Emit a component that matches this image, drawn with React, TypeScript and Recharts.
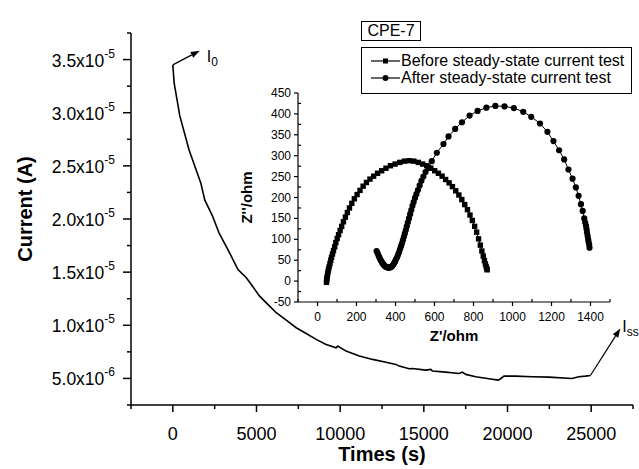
import React from 'react'
import {
  LineChart,
  Line,
  XAxis,
  YAxis,
  ReferenceLine,
  ScatterChart,
  Scatter,
} from 'recharts'

const FONT = 'Arial, "Liberation Sans", Helvetica, sans-serif'

// main chronoamperometry curve
const timeS = [0, 77, 417, 971, 1669, 1907, 2366, 2759, 3300, 3892, 4392, 4690, 5185, 5781, 6180, 6776, 7372, 7968, 8564, 9160, 9756, 9852, 10352, 10549, 11145, 11938, 12737, 13333, 13529, 14125, 14322, 15120, 15418, 15514, 16312, 17105, 17302, 17505, 18101, 18893, 19447, 19590, 19787, 20485, 21474, 22469, 23859, 24257, 24657, 24955]
const currentA = [3.45e-5, 3.28e-5, 2.97e-5, 2.65e-5, 2.34e-5, 2.18e-5, 2.03e-5, 1.87e-5, 1.71e-5, 1.525e-5, 1.447e-5, 1.384e-5, 1.274e-5, 1.18e-5, 1.118e-5, 1.048e-5, 9.77e-6, 9.23e-6, 8.67e-6, 8.2e-6, 7.89e-6, 8.04e-6, 7.57e-6, 7.47e-6, 7.1e-6, 6.79e-6, 6.53e-6, 6.32e-6, 6.16e-6, 5.91e-6, 5.94e-6, 5.78e-6, 5.85e-6, 5.69e-6, 5.59e-6, 5.47e-6, 5.59e-6, 5.38e-6, 5.16e-6, 4.97e-6, 4.84e-6, 4.97e-6, 5.22e-6, 5.22e-6, 5.16e-6, 5.12e-6, 5.0e-6, 5.16e-6, 5.22e-6, 5.28e-6]

// arrow tips for I0 / Iss annotations
const i0Tip = { t: 1609, cur: 3.584e-5 }
const issTip = { t: 26743, cur: 9.7e-6 }

const timeTicks = [-2500, 0, 2500, 5000, 7500, 10000, 12500, 15000, 17500, 20000, 22500, 25000, 27500]
const currentTicks = [2.5e-6, 5e-6, 7.5e-6, 1e-5, 1.25e-5, 1.5e-5, 1.75e-5, 2e-5, 2.25e-5, 2.5e-5, 2.75e-5, 3e-5, 3.25e-5, 3.5e-5, 3.75e-5]
const currentMantissa = ['5.0', '1.0', '1.5', '2.0', '2.5', '3.0', '3.5']
const currentExp = ['-6', '-5', '-5', '-5', '-5', '-5', '-5']

// inset: Nyquist plots
const beforeRe = [46, 47, 48, 50, 52, 54, 57, 60, 64, 68, 72, 77, 82, 88, 94, 101, 108, 116, 124, 133, 143, 153, 164, 176, 189, 203, 218, 234, 251, 269, 288, 308, 329, 351, 374, 398, 422, 446, 470, 494, 517, 539, 560, 581, 601, 620, 639, 657, 675, 692, 709, 725, 740, 755, 769, 782, 794, 806, 816, 826, 835, 843, 850, 856, 861, 865, 868, 870]
const beforeIm = [-3, 2, 6, 11, 17, 23, 29, 35, 42, 50, 57, 65, 73, 82, 92, 102, 111, 121, 131, 142, 153, 164, 175, 186, 197, 207, 217, 227, 236, 244, 251, 258, 264, 270, 276, 280, 284, 287, 288, 287, 284, 280, 276, 270, 264, 258, 251, 243, 235, 226, 216, 206, 195, 183, 171, 158, 145, 131, 117, 101, 86, 72, 60, 49, 41, 35, 30, 27]
const afterRe = [303, 308, 313, 318, 323, 328, 333, 338, 343, 348, 353, 358, 363, 368, 373, 378, 383, 388, 393, 398, 403, 408, 413, 418, 423, 428, 433, 438, 443, 448, 453, 458, 463, 469, 475, 481, 487, 493, 500, 507, 515, 524, 533, 543, 554, 569, 586, 612, 646, 672, 706, 741, 780, 821, 866, 912, 959, 1007, 1055, 1096, 1141, 1179, 1210, 1239, 1265, 1287, 1308, 1325, 1339, 1351, 1360, 1368, 1373, 1377, 1380, 1382, 1385, 1388, 1390, 1393, 1395]
const afterIm = [72, 67, 61, 56, 51, 47, 43, 40, 37, 35, 34, 33, 32, 32, 33, 34, 36, 39, 43, 47, 52, 57, 63, 69, 76, 83, 90, 98, 106, 114, 122, 131, 140, 150, 160, 170, 180, 189, 199, 208, 218, 229, 240, 250, 261, 272, 287, 307, 328, 346, 364, 380, 396, 407, 415, 419, 418, 414, 405, 393, 377, 357, 335, 313, 291, 267, 245, 224, 204, 184, 168, 150, 140, 132, 124, 116, 108, 100, 94, 88, 80]

const zReTicks = [-100, 0, 100, 200, 300, 400, 500, 600, 700, 800, 900, 1000, 1100, 1200, 1300, 1400, 1500]
const zImTicks = [-50, -25, 0, 25, 50, 75, 100, 125, 150, 175, 200, 225, 250, 275, 300, 325, 350, 375, 400, 425, 450]

const mainData = timeS.map((t, i) => ({ t, cur: currentA[i] }))
const beforeData = beforeRe.map((zr, i) => ({ zr, zi: beforeIm[i] }))
const afterData = afterRe.map((zr, i) => ({ zr, zi: afterIm[i] }))

function MainXTick(p: any) {
  const { x, y, payload } = p
  const v = payload.value
  const major = Math.abs(v % 5000) === 0
  return (
    <g>
      <line x1={x} y1={y} x2={x} y2={y + (major ? 7 : 4)} stroke="#000" strokeWidth={1.5} />
      {major && (
        <text x={x} y={y + 22} dy="0.71em" textAnchor="middle" fontSize={18} fontFamily={FONT} fill="#000">
          {v}
        </text>
      )}
    </g>
  )
}

function MainYTick(p: any) {
  const { x, y, index } = p
  const major = index % 2 === 1
  const k = (index - 1) / 2
  return (
    <g>
      <line x1={x} y1={y} x2={x - (major ? 8 : 4)} y2={y} stroke="#000" strokeWidth={1.5} />
      {major && (
        <text x={x - 16} y={y + 7} textAnchor="end" fontSize={17.5} fontFamily={FONT} fill="#000">
          {currentMantissa[k]}x10
          <tspan dy={-9} fontSize={12}>{currentExp[k]}</tspan>
        </text>
      )}
    </g>
  )
}

function InsetXTick(p: any) {
  const { x, y, payload } = p
  const v = payload.value
  const major = Math.abs(v % 200) === 0
  return (
    <g>
      <line x1={x} y1={y} x2={x} y2={major ? y + 4 : y - 3} stroke="#000" strokeWidth={1.2} />
      {major && (
        <text x={x} y={y + 10} dy="0.71em" textAnchor="middle" fontSize={12} fontFamily={FONT} fill="#000">
          {v}
        </text>
      )}
    </g>
  )
}

function InsetYTick(p: any) {
  const { x, y, payload } = p
  const v = payload.value
  const major = Math.abs(v % 50) === 0
  return (
    <g>
      <line x1={x} y1={y} x2={major ? x - 4 : x + 3} y2={y} stroke="#000" strokeWidth={1.2} />
      {major && (
        <text x={x - 7} y={y + 4} textAnchor="end" fontSize={12} fontFamily={FONT} fill="#000">
          {v}
        </text>
      )}
    </g>
  )
}

function arrowShape(label: string, sub: string, lx: number, ly: number) {
  return (p: any) => {
    const { x1, y1, x2, y2 } = p
    const a = Math.atan2(y2 - y1, x2 - x1)
    const len = 9
    const w = 3.2
    const bx = x2 - len * Math.cos(a)
    const by = y2 - len * Math.sin(a)
    const pts = [
      [x2, y2],
      [bx - w * Math.sin(a), by + w * Math.cos(a)],
      [bx + w * Math.sin(a), by - w * Math.cos(a)],
    ]
    return (
      <g>
        <line x1={x1} y1={y1} x2={bx} y2={by} stroke="#000" strokeWidth={1.2} />
        <polygon points={pts.map(q => q.join(',')).join(' ')} fill="#000" />
        <text x={x2 + lx} y={y2 + ly} fontSize={16} fontFamily={FONT} fill="#000">
          {label}
          <tspan dy={4} fontSize={12}>{sub}</tspan>
        </text>
      </g>
    )
  }
}

const squareDot = (p: any) => <rect x={p.cx - 2.7} y={p.cy - 2.7} width={5.4} height={5.4} fill="#000" />
const circleDot = (p: any) => <circle cx={p.cx} cy={p.cy} r={3.1} fill="#000" />

export default function App() {
  return (
    <div style={{ position: 'absolute', left: 0, top: 0, width: 639, height: 469, background: '#fff', fontFamily: FONT }}>
      <LineChart width={639} height={469} data={mainData} margin={{ top: 33, right: 6, bottom: 0, left: 0 }}>
        <XAxis
          type="number"
          dataKey="t"
          domain={[-2500, 27500]}
          ticks={timeTicks}
          interval={0}
          tickSize={0}
          tickMargin={0}
          tick={<MainXTick />}
          height={64}
          axisLine={{ stroke: '#000', strokeWidth: 1.5 }}
          label={{
            content: (lp: any) => {
              const vb = lp.viewBox
              return (
                <text x={vb.x + vb.width / 2} y={vb.y + 56} textAnchor="middle" fontSize={20} fontWeight="bold" fontFamily={FONT} fill="#000">
                  Times (s)
                </text>
              )
            },
          }}
        />
        <YAxis
          type="number"
          dataKey="cur"
          domain={[2.5e-6, 3.75e-5]}
          ticks={currentTicks}
          interval={0}
          tickSize={0}
          tickMargin={0}
          tick={<MainYTick />}
          width={131}
          axisLine={{ stroke: '#000', strokeWidth: 1.5 }}
          label={{
            content: (lp: any) => {
              const vb = lp.viewBox
              const cx = vb.x + 25
              const cy = vb.y + vb.height / 2 - 10
              return (
                <text x={cx} y={cy} transform={`rotate(-90 ${cx} ${cy})`} textAnchor="middle" dominantBaseline="central" fontSize={20} fontWeight="bold" fontFamily={FONT} fill="#000">
                  Current (A)
                </text>
              )
            },
          }}
        />
        <Line type="linear" dataKey="cur" stroke="#000" strokeWidth={1.6} dot={false} isAnimationActive={false} />
        <ReferenceLine
          segment={[{ x: timeS[0], y: currentA[0] }, { x: i0Tip.t, y: i0Tip.cur }]}
          shape={arrowShape('I', '0', 7, 11)}
        />
        <ReferenceLine
          segment={[{ x: timeS[timeS.length - 1], y: currentA[currentA.length - 1] }, { x: issTip.t, y: issTip.cur }]}
          shape={arrowShape('I', 'ss', 2, 4)}
        />
      </LineChart>

      <div style={{ position: 'absolute', left: 220, top: 85 }}>
        <ScatterChart width={400} height={260} margin={{ top: 8, right: 10, bottom: 0, left: 0 }}>
          <XAxis
            type="number"
            dataKey="zr"
            domain={[-100, 1500]}
            ticks={zReTicks}
            interval={0}
            tickSize={0}
            tickMargin={0}
            tick={<InsetXTick />}
            height={43}
            axisLine={{ stroke: '#000', strokeWidth: 1.2 }}
            label={{
              content: (lp: any) => {
                const vb = lp.viewBox
                return (
                  <text x={vb.x + vb.width / 2} y={vb.y + 39} textAnchor="middle" fontSize={15} fontWeight="bold" fontFamily={FONT} fill="#000">
                    Z'/ohm
                  </text>
                )
              },
            }}
          />
          <YAxis
            type="number"
            dataKey="zi"
            domain={[-50, 450]}
            ticks={zImTicks}
            interval={0}
            tickSize={0}
            tickMargin={0}
            tick={<InsetYTick />}
            width={78}
            axisLine={{ stroke: '#000', strokeWidth: 1.2 }}
            label={{
              content: (lp: any) => {
                const vb = lp.viewBox
                const cx = vb.x + 26
                const cy = vb.y + vb.height / 2
                return (
                  <text x={cx} y={cy} transform={`rotate(-90 ${cx} ${cy})`} textAnchor="middle" dominantBaseline="central" fontSize={15} fontWeight="bold" fontFamily={FONT} fill="#000">
                    Z''/ohm
                  </text>
                )
              },
            }}
          />
          <Scatter data={beforeData} shape={squareDot} line={{ stroke: '#000', strokeWidth: 1 }} isAnimationActive={false} />
          <Scatter data={afterData} shape={circleDot} line={{ stroke: '#000', strokeWidth: 1 }} isAnimationActive={false} />
        </ScatterChart>
      </div>

      <div
        style={{
          position: 'absolute', left: 361, top: 21, width: 60, height: 20, boxSizing: 'border-box',
          border: '1px solid #000', fontSize: 16, lineHeight: '18px', textAlign: 'center', color: '#000',
        }}
      >
        CPE-7
      </div>
      <div
        style={{
          position: 'absolute', left: 361, top: 47, width: 271, height: 47, boxSizing: 'border-box',
          border: '1px solid #000', fontSize: 16, color: '#000',
        }}
      >
        {[
          { name: 'Before steady-state current test', sym: 'square', top: 4 },
          { name: 'After steady-state current test', sym: 'circle', top: 21 },
        ].map(r => (
          <div key={r.name} style={{ position: 'absolute', left: 9, top: r.top, height: 18, lineHeight: '18px', whiteSpace: 'nowrap' }}>
            <svg width={30} height={18} style={{ position: 'absolute', left: 0, top: 0 }}>
              <line x1={0} y1={9} x2={29} y2={9} stroke="#000" strokeWidth={1.2} />
              {r.sym === 'square' ? <rect x={12} y={6.5} width={5} height={5} fill="#000" /> : <circle cx={14.5} cy={9} r={3} fill="#000" />}
            </svg>
            <span style={{ position: 'absolute', left: 30, top: 0 }}>{r.name}</span>
          </div>
        ))}
      </div>
    </div>
  )
}
